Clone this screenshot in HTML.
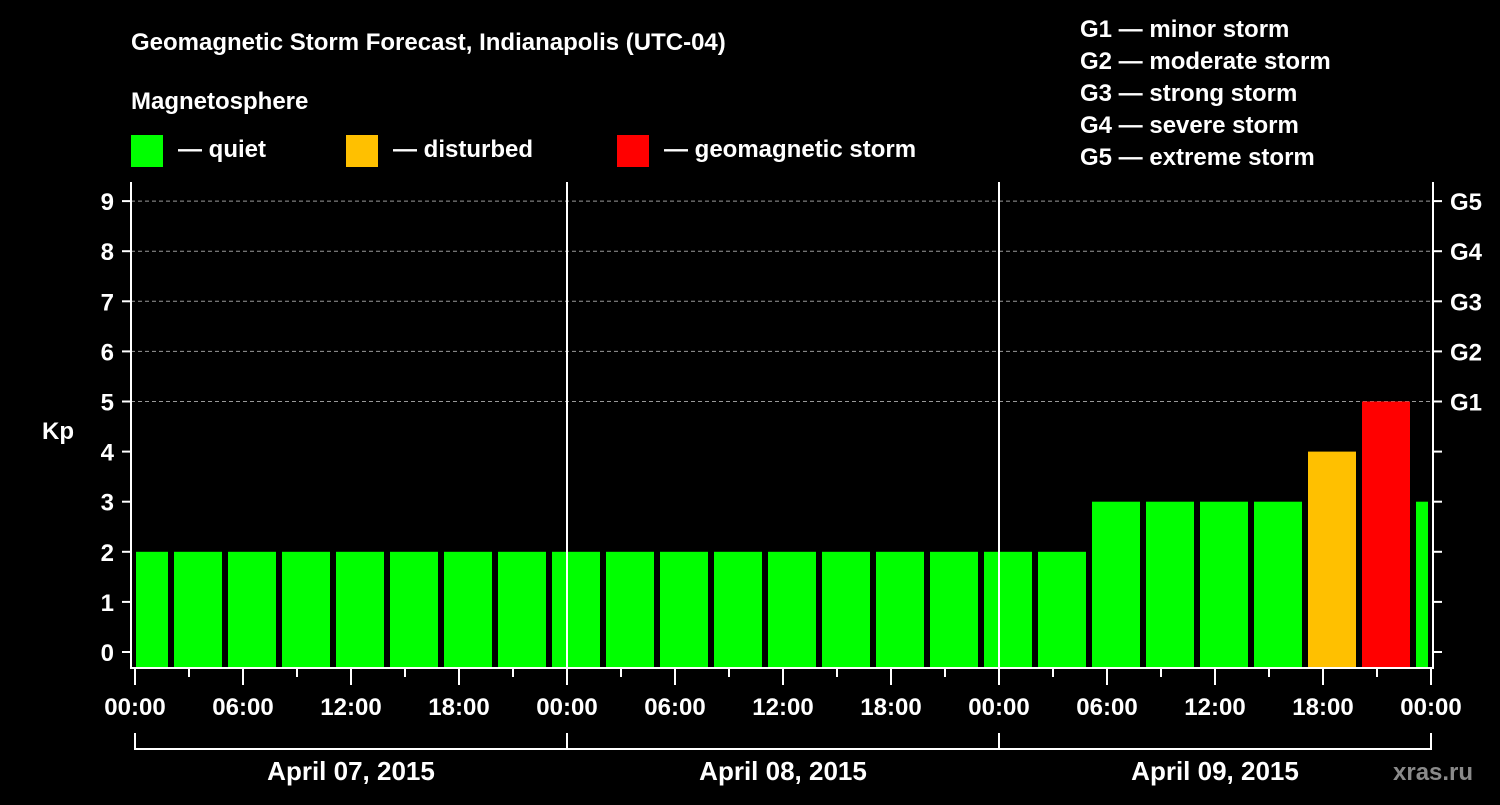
<!DOCTYPE html>
<html><head><meta charset="utf-8"><style>
body{margin:0;background:#000;width:1500px;height:800px;overflow:hidden}
svg text{font-family:"Liberation Sans",Arial,sans-serif;font-weight:bold;fill:#fff}
</style></head><body>
<svg id="c" width="1500" height="800">
<text x="131" y="50" font-size="24">Geomagnetic Storm Forecast, Indianapolis (UTC-04)</text>
<text x="131" y="109" font-size="24">Magnetosphere</text>
<g><rect x="131" y="135" width="32" height="32" fill="#00ff00"/><text x="178" y="157" font-size="24">— quiet</text></g>
<g><rect x="346" y="135" width="32" height="32" fill="#ffc000"/><text x="393" y="157" font-size="24">— disturbed</text></g>
<g><rect x="617" y="135" width="32" height="32" fill="#ff0000"/><text x="664" y="157" font-size="24">— geomagnetic storm</text></g>
<g font-size="24">
<text x="1080" y="37">G1 — minor storm</text><text x="1080" y="69">G2 — moderate storm</text><text x="1080" y="101">G3 — strong storm</text><text x="1080" y="133">G4 — severe storm</text><text x="1080" y="165">G5 — extreme storm</text></g>
<text x="42" y="439" font-size="24">Kp</text>
<text x="1393" y="780" font-size="24" fill="#888" style="fill:#8a8a8a">xras.ru</text>
<g id="plot"></g>
</svg>
<script>
const kpValues=[2,2,2,2,2,2,2,2,2,2,2,2,2,2,2,2,2,2,3,3,3,3,4,5,3];
const yTicks=[0,1,2,3,4,5,6,7,8,9];
const gLabels=["G1","G2","G3","G4","G5"];
const hourLabels=["00:00","06:00","12:00","18:00","00:00","06:00","12:00","18:00","00:00","06:00","12:00","18:00","00:00"];
const dayLabels=["April 07, 2015","April 08, 2015","April 09, 2015"];
const NS="http://www.w3.org/2000/svg";
const g=document.getElementById('plot');
const X0=135,PX_H=18,Y0=652,PX_K=50.1,TOP=182,BOT=668,L=131,R=1433;
const xs=h=>X0+h*PX_H, ys=k=>Y0-k*PX_K;
function el(t,a,p){const e=document.createElementNS(NS,t);for(const k in a)e.setAttribute(k,a[k]);(p||g).appendChild(e);return e;}
// grid
for(let k=5;k<=9;k++){const e=el('line',{x1:L,x2:R,y1:ys(k),y2:ys(k),stroke:'#999','stroke-dasharray':'4,3','stroke-width':1});

}
// bars
const col=v=>v>=5?'#ff0000':(v>=4?'#ffc000':'#00ff00');
kpValues.forEach((v,i)=>{const st=xs(-1+3*i)+3;const x0=Math.max(st,136),x1=Math.min(st+48,1428);
const r=el('rect',{x:x0,y:ys(v),width:x1-x0,height:BOT-1-ys(v),fill:col(v)});

});
// day separators
[1,2].forEach(d=>{const e=el('line',{x1:xs(24*d),x2:xs(24*d),y1:TOP,y2:BOT,stroke:'#fff','stroke-width':2});

});
// axes
const ax=el('path',{d:`M${L},${TOP}V${BOT}H${R}V${TOP}`,stroke:'#fff','stroke-width':2,fill:'none'});


yTicks.forEach(k=>{el('line',{x1:122,x2:L,y1:ys(k),y2:ys(k),stroke:'#fff','stroke-width':2});
el('line',{x1:R,x2:1442,y1:ys(k),y2:ys(k),stroke:'#fff','stroke-width':2});
const t=el('text',{x:114,y:ys(k)+9,'font-size':24,'text-anchor':'end'});t.textContent=k;

});
gLabels.forEach((s,i)=>{const t=el('text',{x:1450,y:ys(5+i)+9,'font-size':24});t.textContent=s;

});
for(let h=0;h<=72;h+=3){const maj=h%6==0;el('line',{x1:xs(h),x2:xs(h),y1:BOT,y2:maj?685:677,stroke:'#fff','stroke-width':2});}
hourLabels.forEach((s,i)=>{const t=el('text',{x:xs(6*i),y:715,'font-size':24,'text-anchor':'middle'});t.textContent=s;

});
el('path',{d:`M${xs(0)},733V749H${xs(72)}V733`,stroke:'#fff','stroke-width':2,fill:'none'});
[1,2].forEach(d=>el('line',{x1:xs(24*d),x2:xs(24*d),y1:733,y2:749,stroke:'#fff','stroke-width':2}));
dayLabels.forEach((s,i)=>{const t=el('text',{x:xs(24*i+12),y:780,'font-size':26,'text-anchor':'middle'});t.textContent=s;

});
</script>
</body></html>
